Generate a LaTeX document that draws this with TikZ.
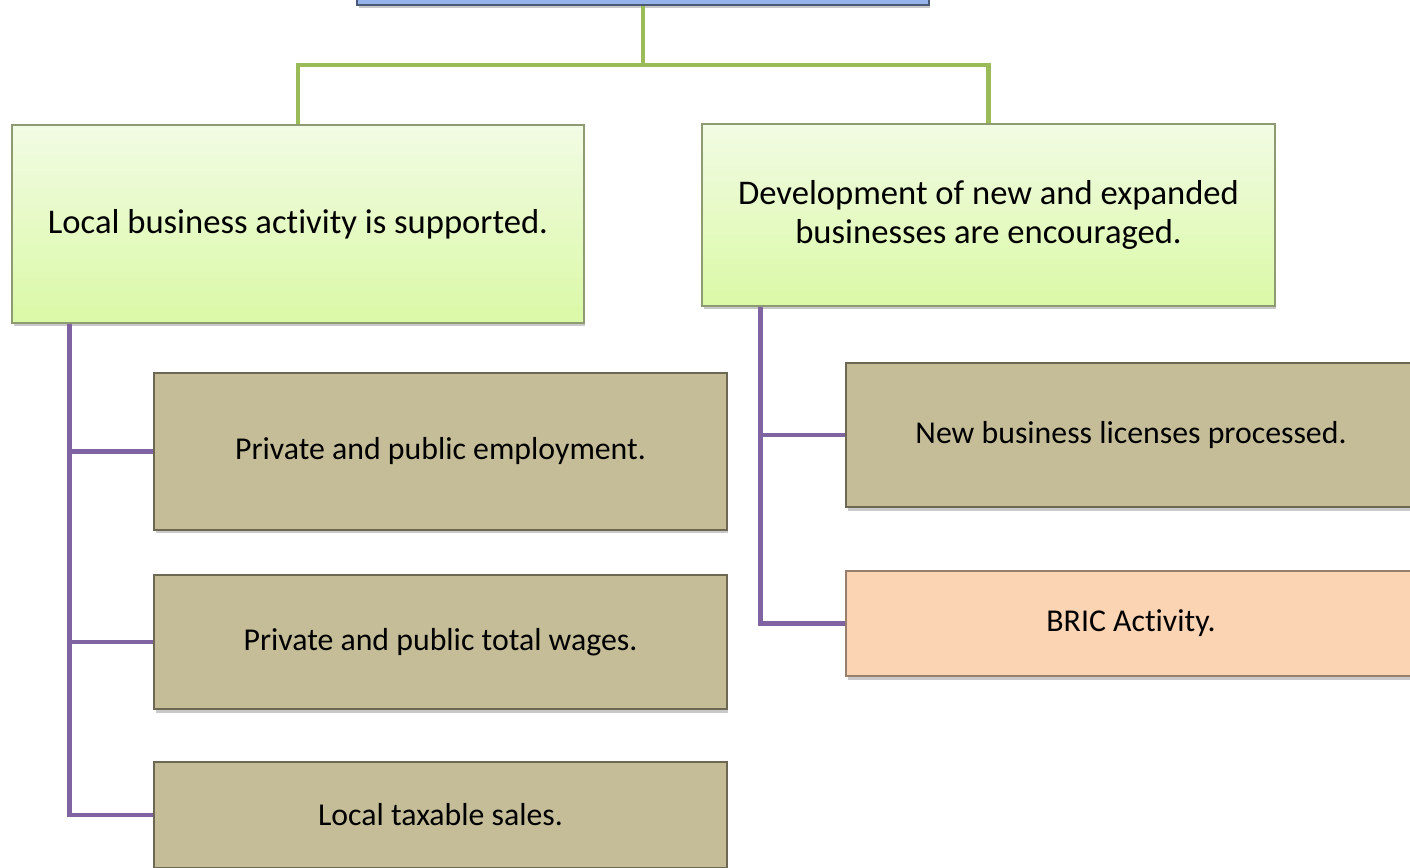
\documentclass[tikz,border=0pt]{standalone}
\usepackage{fontspec}
\setmainfont[Ligatures=NoCommon]{Carlito}
\usetikzlibrary{shadows}

\definecolor{goalline}{HTML}{9BBB59}
\definecolor{measline}{HTML}{8064A2}
\definecolor{tanfill}{HTML}{C4BD97}
\definecolor{peachfill}{HTML}{FBD4B4}
\definecolor{greentop}{HTML}{F2FBE4}
\definecolor{greenbot}{HTML}{DAF9A6}
\definecolor{bluetop}{HTML}{B4CBF4}
\definecolor{bluebot}{HTML}{95B3EA}

\tikzset{
  box/.style={rectangle, draw=black!45, line width=0.8pt, align=center,
    drop shadow={shadow xshift=0.03cm, shadow yshift=-0.07cm, opacity=0.3, fill=black!70}},
  goalbox/.style={box, top color=greentop, bottom color=greenbot, draw=black!40!goalline!70,
    font=\fontsize{19.7}{22.5}\selectfont},
  topbox/.style={box, top color=bluetop, bottom color=bluebot, draw=black!50!bluebot},
  measbox/.style={box, fill=tanfill, draw=black!45!tanfill, font=\fontsize{18.1}{21}\selectfont},
  actbox/.style={box, fill=peachfill, draw=black!40!peachfill, font=\fontsize{18.1}{21}\selectfont},
  gline/.style={draw=goalline, line width=2.8pt},
  pline/.style={draw=measline, line width=2.8pt}
}

\begin{document}
\begin{tikzpicture}[x=0.02cm, y=-0.02cm]
  \useasboundingbox (0,0) rectangle (1410,867);
  \clip (0,0) rectangle (1410,867);

  % outcome level
  \node (top) [topbox, minimum width=11.44cm, minimum height=2cm] at (643, -45) {};
  \node (lg) [goalbox, minimum width=11.44cm, minimum height=3.96cm] at (298, 224)
    {Local business activity is supported.};
  \node (rg) [goalbox, minimum width=11.46cm, minimum height=3.64cm] at (988.5, 215)
    {Development of new and expanded\\businesses are encouraged.};

  % measures
  \node (m1) [measbox, minimum width=11.46cm, minimum height=3.14cm] at (440.5, 451.5)
    {Private and public employment.};
  \node (m2) [measbox, minimum width=11.46cm, minimum height=2.68cm] at (440.5, 642)
    {Private and public total wages.};
  \node (m3) [measbox, minimum width=11.46cm, minimum height=2.12cm] at (440.5, 815)
    {Local taxable sales.};
  \node (m4) [measbox, minimum width=11.4cm, minimum height=2.88cm] at (1131, 435)
    {New business licenses processed.};
  \node (m5) [actbox, minimum width=11.4cm, minimum height=2.1cm] at (1131, 623.5)
    {BRIC Activity.};

  % green connectors
  \coordinate (gj) at (643, 65);
  \draw[gline] (top.south) -- (gj);
  \draw[gline] (lg.north) |- (gj) -| (rg.north);

  % purple connectors
  \coordinate (ls) at ([xshift=1.16cm]lg.south west);
  \coordinate (rs) at ([xshift=1.18cm]rg.south west);
  \draw[pline] (ls) |- (m3.west);
  \draw[pline] (ls |- m1.west) -- (m1.west);
  \draw[pline] (ls |- m2.west) -- (m2.west);
  \draw[pline] (rs) |- (m5.west);
  \draw[pline] (rs |- m4.west) -- (m4.west);
\end{tikzpicture}
\end{document}
